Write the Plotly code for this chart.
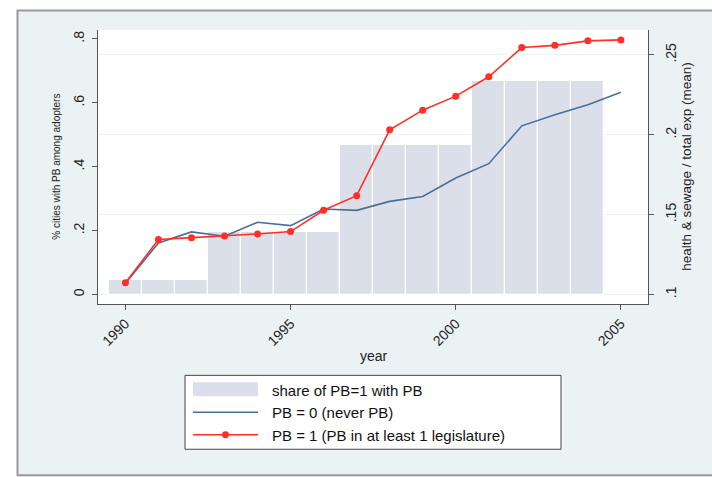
import plotly.graph_objects as go

years = list(range(1990, 2006))
bar_years = list(range(1990, 2005))
share_pb = [0.045, 0.045, 0.045, 0.197, 0.197, 0.197, 0.197,
            0.469, 0.469, 0.469, 0.469, 0.667, 0.667, 0.667, 0.667]
pb0 = [0.107, 0.1323, 0.1392, 0.1365, 0.1452, 0.1431, 0.1535, 0.1527,
       0.1583, 0.1614, 0.1729, 0.1819, 0.2056, 0.2125, 0.2188, 0.2267]
pb1 = [0.1073, 0.1344, 0.1356, 0.1367, 0.1379, 0.1394, 0.1527, 0.1619,
       0.2031, 0.2154, 0.2242, 0.2363, 0.2546, 0.2560, 0.2588, 0.2594]

left_ticks = [0, 0.2, 0.4, 0.6, 0.8]
left_labels = ["0", ".2", ".4", ".6", ".8"]
right_ticks = [0.1, 0.15, 0.2, 0.25]
right_labels = [".1", ".15", ".2", ".25"]
x_ticks = [1990, 1995, 2000, 2005]
legend_labels = ["share of PB=1 with PB", "PB = 0 (never PB)",
                 "PB = 1 (PB in at least 1 legislature)"]

BAR_C = "#dadfe9"
BLUE = "#4a6f95"
RED = "#ff2f26"
AXC = "#555555"
FONT = "Liberation Sans, Arial, sans-serif"

W, H = 712, 477
L, R, T, B = 98, 648, 30, 304.5


def px(x):
    return (x - L) / (R - L)


def py(y):
    return (B - y) / (B - T)


fig = go.Figure()
fig.add_trace(go.Bar(x=bar_years, y=share_pb, width=1.0, marker_color=BAR_C,
                     marker_line=dict(color="white", width=1.2),
                     name=legend_labels[0], yaxis="y", showlegend=False))
fig.add_trace(go.Scatter(x=years, y=pb0, mode="lines", line=dict(color=BLUE, width=1.6),
                         name=legend_labels[1], yaxis="y2", showlegend=False))
fig.add_trace(go.Scatter(x=years, y=pb1, mode="lines+markers",
                         line=dict(color=RED, width=1.6),
                         marker=dict(color=RED, size=7),
                         name=legend_labels[2], yaxis="y2", showlegend=False))

shapes = []
# white strips outside the outer frame
shapes.append(dict(type="rect", xref="paper", yref="paper", x0=px(0), x1=px(W + 5),
                   y0=py(10), y1=py(-5), fillcolor="white", line_width=0, layer="below"))
shapes.append(dict(type="rect", xref="paper", yref="paper", x0=px(-5), x1=px(17),
                   y0=py(H + 5), y1=py(-5), fillcolor="white", line_width=0, layer="below"))
# outer frame border
shapes.append(dict(type="rect", xref="paper", yref="paper", x0=px(17.5), x1=px(W + 5),
                   y0=py(476), y1=py(10.5), line=dict(color="#9a9a9a", width=2),
                   fillcolor="rgba(0,0,0,0)", layer="below"))

# legend
lx0, lx1, ly0, ly1 = 185, 561, 376, 450
shapes.append(dict(type="rect", xref="paper", yref="paper", x0=px(lx0), x1=px(lx1),
                   y0=py(ly1), y1=py(ly0), fillcolor="white",
                   line=dict(color="#444444", width=1)))
sx0, sx1 = 193, 258
shapes.append(dict(type="rect", xref="paper", yref="paper", x0=px(sx0), x1=px(sx1),
                   y0=py(397), y1=py(383), fillcolor=BAR_C, line_width=0))
shapes.append(dict(type="line", xref="paper", yref="paper", x0=px(sx0), x1=px(sx1),
                   y0=py(413), y1=py(413), line=dict(color=BLUE, width=1.6)))
shapes.append(dict(type="line", xref="paper", yref="paper", x0=px(sx0), x1=px(sx1),
                   y0=py(435.5), y1=py(435.5), line=dict(color=RED, width=1.6)))
cx, cy, r = 225.5, 435.5, 3.5
shapes.append(dict(type="circle", xref="paper", yref="paper", x0=px(cx - r), x1=px(cx + r),
                   y0=py(cy + r), y1=py(cy - r), fillcolor=RED, line_width=0))

annotations = []
for lab, yy in zip(legend_labels, [391.5, 413.5, 436]):
    annotations.append(dict(text=lab, xref="paper", yref="paper", x=px(270), y=py(yy),
                            xanchor="left", yanchor="middle", showarrow=False,
                            font=dict(family=FONT, size=15, color="#111111")))
# axis titles
annotations.append(dict(text="% cities with PB among adopters", xref="paper", yref="paper",
                        x=px(57), y=py(167), textangle=-90, showarrow=False,
                        xanchor="center", yanchor="middle",
                        font=dict(family=FONT, size=10, color="#222222")))
annotations.append(dict(text="health & sewage / total exp (mean)", xref="paper", yref="paper",
                        x=px(687), y=py(167), textangle=-90, showarrow=False,
                        xanchor="center", yanchor="middle",
                        font=dict(family=FONT, size=13.5, color="#222222")))
annotations.append(dict(text="year", xref="paper", yref="paper",
                        x=px(374), y=py(357), showarrow=False,
                        xanchor="center", yanchor="middle",
                        font=dict(family=FONT, size=14, color="#222222")))

fig.update_layout(
    width=W, height=H,
    margin=dict(l=L, r=W - R, t=T, b=H - B, pad=0),
    paper_bgcolor="#eaf2f3", plot_bgcolor="white",
    font=dict(family=FONT, size=13, color="#222222"),
    bargap=0,
    shapes=shapes, annotations=annotations,
    xaxis=dict(range=[1989.17, 2005.82], tickvals=x_ticks, ticktext=[str(v) for v in x_ticks],
               tickangle=-45, ticks="outside", ticklen=5, tickcolor=AXC,
               showline=True, linecolor=AXC, linewidth=1, showgrid=False, zeroline=False,
               tickfont=dict(size=14)),
    yaxis=dict(range=[-0.0297, 0.828], tickvals=left_ticks, ticktext=left_labels,
               tickangle=-90, ticks="outside", ticklen=5, tickcolor=AXC,
               showline=True, linecolor=AXC, linewidth=1, showgrid=False, zeroline=False,
               tickfont=dict(size=14), ticklabelstandoff=2),
    yaxis2=dict(range=[0.09406, 0.2656], tickvals=right_ticks, ticktext=right_labels,
                overlaying="y", side="right", tickangle=-90, ticks="outside", ticklen=5,
                tickcolor=AXC, showline=True, linecolor=AXC, linewidth=1,
                showgrid=True, gridcolor="#eef2f4", gridwidth=1, zeroline=False,
                tickfont=dict(size=14), ticklabelstandoff=5),
)

fig.write_html("out.html", config={"displayModeBar": False},
               post_script="document.body.style.margin='0px';")
